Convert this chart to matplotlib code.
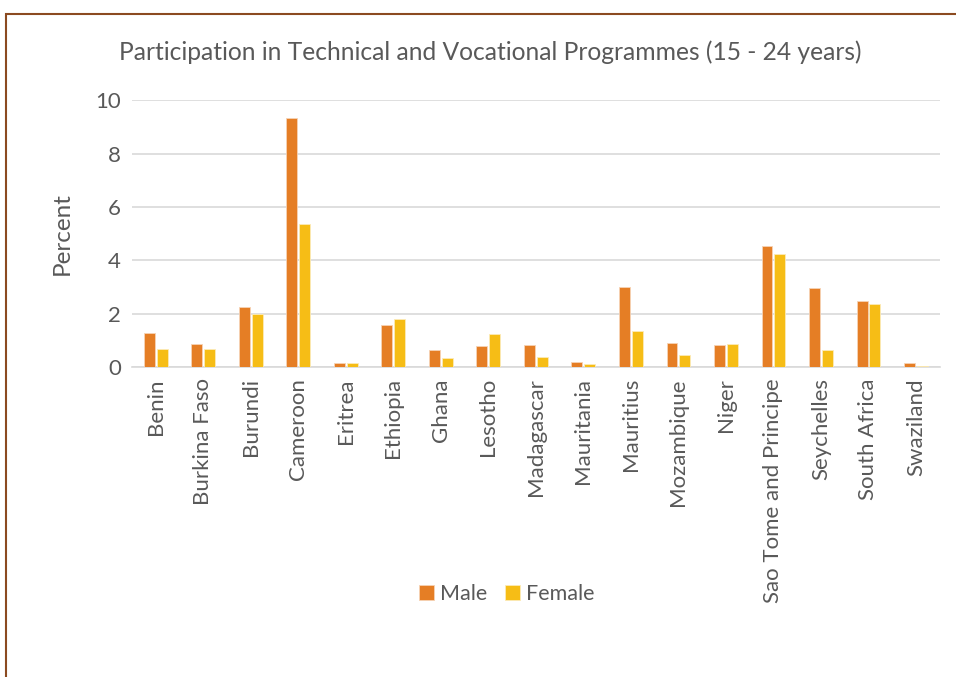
import matplotlib
matplotlib.use("Agg")
import matplotlib.pyplot as plt
import numpy as np
from matplotlib.patches import Rectangle

plt.rcParams['font.family'] = ['Lato', 'DejaVu Sans']

countries = ['Benin', 'Burkina Faso', 'Burundi', 'Cameroon', 'Eritrea', 'Ethiopia',
             'Ghana', 'Lesotho', 'Madagascar', 'Mauritania', 'Mauritius', 'Mozambique',
             'Niger', 'Sao Tome and Principe', 'Seychelles', 'South Africa', 'Swaziland']
male = [1.29, 0.85, 2.23, 9.33, 0.16, 1.59, 0.63, 0.79, 0.84, 0.20, 3.01, 0.88,
        0.81, 4.55, 2.95, 2.46, 0.14]
female = [0.66, 0.66, 2.00, 5.35, 0.14, 1.78, 0.35, 1.23, 0.38, 0.125, 1.36, 0.44,
          0.86, 4.23, 0.63, 2.36, 0.04]

grey = '#595959'
fig = plt.figure(figsize=(9.56, 6.77), dpi=100)
ax = fig.add_axes([0.138, 0.458, 0.845, 0.394])

x = np.arange(len(countries))
w = 0.23
ax.bar(x - w / 2 - 0.02, male, w, color='#E57E25', edgecolor='#F6D3B5', linewidth=0.6,
       label='Male', zorder=3)
ax.bar(x + w / 2 + 0.02, female, w, color='#F6BD16', edgecolor='#FCEBB8', linewidth=0.6,
       label='Female', zorder=3)

ax.set_xlim(-0.5, len(countries) - 0.5)
ax.set_ylim(0, 10)
ax.set_yticks([0, 2, 4, 6, 8, 10])
ax.yaxis.grid(True, color='#D9D9D9', linewidth=1.2, zorder=0)
for s in ['top', 'right', 'left']:
    ax.spines[s].set_visible(False)
ax.spines['bottom'].set_color('#D9D9D9')
ax.spines['bottom'].set_linewidth(1.2)
ax.tick_params(length=0, colors=grey, labelsize=16, pad=8)
ax.set_xticks(x)
ax.set_xticklabels(countries, rotation=90)
ax.set_ylabel('Percent', color=grey, fontsize=17.5, labelpad=16)

# title sits centred on the whole chart, not the plot area
fig.text(490 / 956, 1 - 52 / 677, 'Participation in Technical and Vocational Programmes (15 - 24 years)',
         color=grey, fontsize=17.7, ha='center', va='center')

leg = ax.legend(loc='upper center', bbox_to_anchor=(0.464, -0.74), ncol=2, frameon=False,
                fontsize=15.5, labelcolor=grey, handlelength=0.7, handleheight=0.7,
                columnspacing=0.8, handletextpad=0.3)

fig.patches.append(Rectangle((6 / 956, -0.1), 1.2, 1 - 14 / 677 + 0.1, transform=fig.transFigure,
                             fill=False, edgecolor='#8B4A20', linewidth=1.5))

fig.savefig('out.png', dpi=100)
